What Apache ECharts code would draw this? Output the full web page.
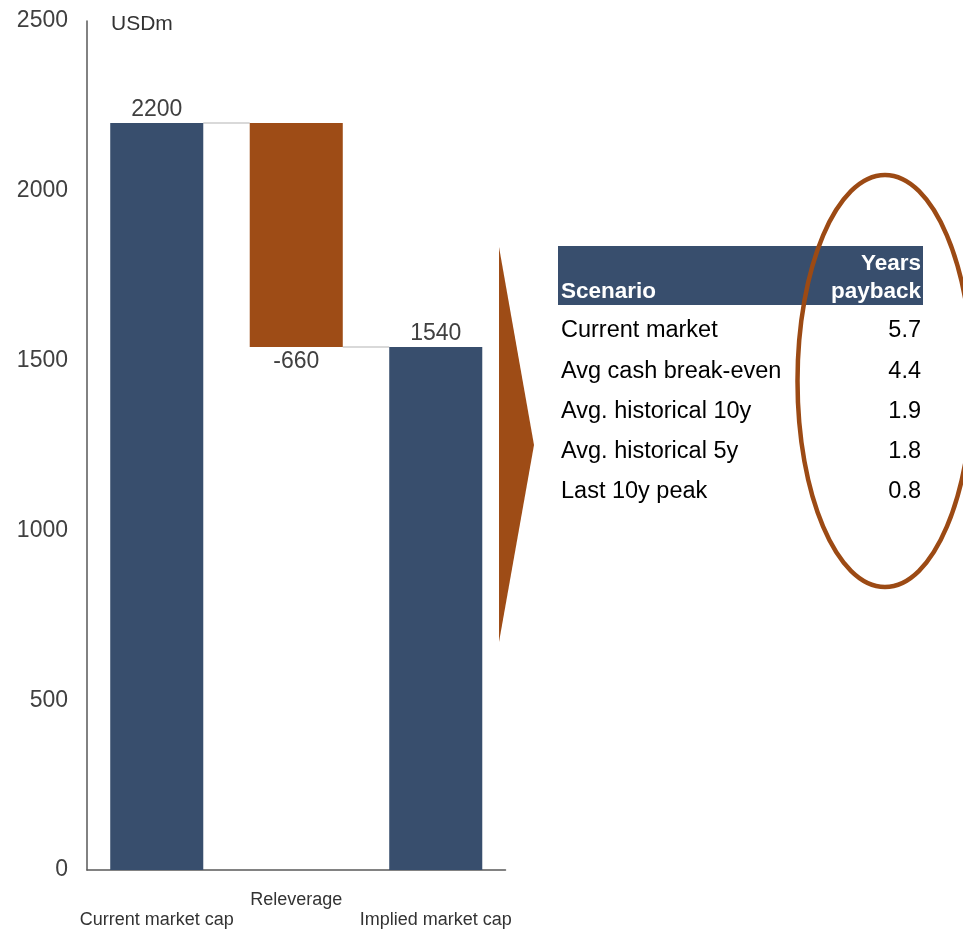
<!DOCTYPE html>
<html>
<head>
<meta charset="utf-8">
<script src="https://cdn.jsdelivr.net/npm/echarts@6/dist/echarts.min.js"></script>
<style>
  html, body { margin: 0; padding: 0; background: #fff; }
  #chart { width: 963px; height: 930px; }
</style>
</head>
<body>
<div id="chart"></div>
<script>
// Waterfall steps (USDm)
const categories = ['Current market cap', 'Releverage', 'Implied market cap'];
const stepValues = [2200, -660, 1540];
const isTotal = [true, false, true];

// Payback table
const scenarios = ['Current market', 'Avg cash break-even', 'Avg. historical 10y', 'Avg. historical 5y', 'Last 10y peak'];
const paybackYears = [5.7, 4.4, 1.9, 1.8, 0.8];

const NAVY = '#384e6d';
const RUST = '#9e4c16';
const FONT = '"Liberation Sans", Arial, sans-serif';

// Invisible bases and visible heights for the stacked waterfall
const bases = [];
const heights = [];
const levels = [];
let running = 0;
stepValues.forEach((v, i) => {
  if (isTotal[i]) {
    bases.push(0);
    heights.push(v);
    running = v;
  } else {
    const next = running + v;
    bases.push(Math.min(running, next));
    heights.push(Math.abs(v));
    running = next;
  }
  levels.push(running);
});

// Connector lines: each step's starting edge is the previous step's top level
const connectors = [];
for (let i = 0; i < stepValues.length - 1; i++) {
  const startsFromTop = !isTotal[i + 1] && stepValues[i + 1] < 0;
  connectors.push([i, startsFromTop ? levels[i] : levels[i]]);
}

const chart = echarts.init(document.getElementById('chart'), null, { renderer: 'canvas' });

// Table graphics
const tblLeft = 558, tblRight = 923, headTop = 246, headBottom = 305;
const rowTop = 331, rowStep = 40.2;
const tableGraphics = [
  { type: 'rect', shape: { x: tblLeft, y: headTop, width: tblRight - tblLeft, height: headBottom - headTop }, style: { fill: NAVY } },
  { type: 'text', style: { text: 'Scenario', x: 561, y: 292, fill: '#fff', font: 'bold 22.5px ' + FONT, textAlign: 'left', textVerticalAlign: 'middle' } },
  { type: 'text', style: { text: 'Years', x: 921, y: 264, fill: '#fff', font: 'bold 22.5px ' + FONT, textAlign: 'right', textVerticalAlign: 'middle' } },
  { type: 'text', style: { text: 'payback', x: 921, y: 292, fill: '#fff', font: 'bold 22.5px ' + FONT, textAlign: 'right', textVerticalAlign: 'middle' } }
];
scenarios.forEach((s, i) => {
  const y = rowTop + i * rowStep;
  tableGraphics.push({ type: 'text', style: { text: s, x: 561, y: y, fill: '#000', font: '23.5px ' + FONT, textAlign: 'left', textVerticalAlign: 'middle' } });
  tableGraphics.push({ type: 'text', style: { text: paybackYears[i].toFixed(1), x: 921, y: y, fill: '#000', font: '23.5px ' + FONT, textAlign: 'right', textVerticalAlign: 'middle' } });
});

const option = {
  animation: false,
  backgroundColor: '#fff',
  textStyle: { fontFamily: FONT },
  grid: { left: 87, top: 21, width: 418.5, bottom: 60, containLabel: false },
  xAxis: {
    type: 'category',
    data: categories,
    axisLine: { lineStyle: { color: '#595959', width: 1.5 } },
    axisTick: { show: false },
    axisLabel: {
      interval: 0,
      margin: 20,
      color: '#333',
      fontSize: 18,
      lineHeight: 20,
      // middle label sits one line higher than its neighbours
      formatter: (v, i) => (i % 2 === 1 ? v : '\n' + v)
    }
  },
  yAxis: {
    type: 'value',
    min: 0,
    max: 2500,
    interval: 500,
    axisLine: { show: true, lineStyle: { color: '#595959', width: 1.5 } },
    axisTick: { show: false },
    splitLine: { show: false },
    axisLabel: { color: '#404040', fontSize: 23, margin: 19, formatter: (v) => String(v) }
  },
  series: [
    {
      type: 'custom',
      z: 1,
      silent: true,
      data: connectors,
      renderItem: (params, api) => {
        const i = api.value(0);
        const lvl = api.value(1);
        const a = api.coord([i, lvl]);
        const b = api.coord([i + 1, lvl]);
        const half = api.size([1, 0])[0] * 0.3335;
        return {
          type: 'line',
          shape: { x1: a[0] + half, y1: a[1], x2: b[0] - half, y2: b[1] },
          style: { stroke: '#d9d9d9', lineWidth: 2 }
        };
      }
    },
    {
      type: 'bar',
      stack: 'wf',
      barWidth: '66.7%',
      silent: true,
      itemStyle: { color: 'transparent' },
      data: bases,
      z: 2
    },
    {
      type: 'bar',
      stack: 'wf',
      barWidth: '66.7%',
      z: 3,
      data: heights.map((h, i) => ({
        value: h,
        itemStyle: { color: isTotal[i] ? NAVY : RUST },
        label: {
          show: true,
          position: stepValues[i] < 0 ? 'bottom' : 'top',
          distance: stepValues[i] < 0 ? 3 : 2,
          formatter: String(stepValues[i]),
          color: '#404040',
          fontSize: 23
        }
      }))
    }
  ],
  graphic: [
    { type: 'text', style: { text: 'USDm', x: 111, y: 24, fill: '#333', font: '21px ' + FONT, textAlign: 'left', textVerticalAlign: 'middle' } },
    { type: 'polygon', shape: { points: [[499, 247], [534, 445], [499, 642]] }, style: { fill: RUST } },
    ...tableGraphics,
    { type: 'ellipse', z: 100, shape: { cx: 885, cy: 381, rx: 87.5, ry: 206 }, style: { fill: 'none', stroke: '#9c4a14', lineWidth: 4.5 } }
  ]
};

chart.setOption(option);
</script>
</body>
</html>
